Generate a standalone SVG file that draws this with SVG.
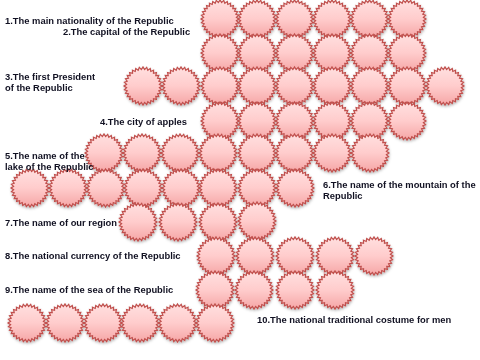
<svg xmlns="http://www.w3.org/2000/svg" xmlns:xlink="http://www.w3.org/1999/xlink" width="480" height="360" viewBox="0 0 480 360">
<style>
.lbl{font-family:"Liberation Sans",Arial,sans-serif;font-weight:bold;font-size:9.4px;fill:#111122}
.cell{fill:url(#g);stroke:#c0504d;stroke-width:1.2;stroke-linejoin:miter}
</style>
<defs>
<linearGradient id="g" x1="0" y1="0" x2="0" y2="1">
<stop offset="0" stop-color="#ffe0e0"/>
<stop offset="0.5" stop-color="#ffcccc"/>
<stop offset="1" stop-color="#f5a6a6"/>
</linearGradient>
<filter id="sh" x="-10%" y="-10%" width="120%" height="130%">
<feDropShadow dx="0.5" dy="1.5" stdDeviation="0.8" flood-color="#000" flood-opacity="0.3"/>
</filter>
<polygon id="s" class="cell" points="19,0 16.42,1.62 18.63,3.71 15.79,4.79 17.55,7.27 14.55,7.78 15.8,10.56 12.75,10.47 13.44,13.44 10.47,12.75 10.56,15.8 7.78,14.55 7.27,17.55 4.79,15.79 3.71,18.63 1.62,16.42 0,19 -1.62,16.42 -3.71,18.63 -4.79,15.79 -7.27,17.55 -7.78,14.55 -10.56,15.8 -10.47,12.75 -13.44,13.44 -12.75,10.47 -15.8,10.56 -14.55,7.78 -17.55,7.27 -15.79,4.79 -18.63,3.71 -16.42,1.62 -19,0 -16.42,-1.62 -18.63,-3.71 -15.79,-4.79 -17.55,-7.27 -14.55,-7.78 -15.8,-10.56 -12.75,-10.47 -13.44,-13.44 -10.47,-12.75 -10.56,-15.8 -7.78,-14.55 -7.27,-17.55 -4.79,-15.79 -3.71,-18.63 -1.62,-16.42 0,-19 1.62,-16.42 3.71,-18.63 4.79,-15.79 7.27,-17.55 7.78,-14.55 10.56,-15.8 10.47,-12.75 13.44,-13.44 12.75,-10.47 15.8,-10.56 14.55,-7.78 17.55,-7.27 15.79,-4.79 18.63,-3.71 16.42,-1.62"/>
</defs>
<g id="cells" filter="url(#sh)">
<g id="row1">
<use href="#s" x="220" y="19"/><use href="#s" x="257" y="19"/><use href="#s" x="294.5" y="19"/><use href="#s" x="332" y="19"/><use href="#s" x="369.5" y="19"/><use href="#s" x="407" y="19"/>
</g>
<g id="row2">
<use href="#s" x="220" y="53"/><use href="#s" x="257" y="53"/><use href="#s" x="294.5" y="53"/><use href="#s" x="332" y="53"/><use href="#s" x="369.5" y="53"/><use href="#s" x="407" y="53"/>
</g>
<g id="row3">
<use href="#s" x="143" y="86"/><use href="#s" x="181" y="86"/><use href="#s" x="220" y="86"/><use href="#s" x="257" y="86"/><use href="#s" x="294.5" y="86"/><use href="#s" x="332" y="86"/><use href="#s" x="369.5" y="86"/><use href="#s" x="407" y="86"/><use href="#s" x="445" y="86"/>
</g>
<g id="row4">
<use href="#s" x="220" y="121"/><use href="#s" x="257" y="121"/><use href="#s" x="294.5" y="121"/><use href="#s" x="332" y="121"/><use href="#s" x="369.5" y="121"/><use href="#s" x="407" y="121"/>
</g>
<g id="row5">
<use href="#s" x="104" y="153"/><use href="#s" x="142" y="153"/><use href="#s" x="180" y="153"/><use href="#s" x="218" y="153"/><use href="#s" x="257" y="153"/><use href="#s" x="294.5" y="153"/><use href="#s" x="332" y="153"/><use href="#s" x="370" y="153"/>
</g>
<g id="row6">
<use href="#s" x="30" y="188"/><use href="#s" x="68" y="188"/><use href="#s" x="105.5" y="188"/><use href="#s" x="143" y="188"/><use href="#s" x="181" y="188"/><use href="#s" x="218" y="188"/><use href="#s" x="257" y="188"/><use href="#s" x="295" y="188"/>
</g>
<g id="row7">
<use href="#s" x="138" y="222"/><use href="#s" x="178" y="222"/><use href="#s" x="218" y="222"/><use href="#s" x="257" y="221"/>
</g>
<g id="row8">
<use href="#s" x="216" y="256"/><use href="#s" x="255" y="256"/><use href="#s" x="295" y="256"/><use href="#s" x="335" y="256"/><use href="#s" x="374" y="256"/>
</g>
<g id="row9">
<use href="#s" x="215" y="290"/><use href="#s" x="254" y="290"/><use href="#s" x="295" y="290"/><use href="#s" x="335" y="290"/>
</g>
<g id="row10">
<use href="#s" x="27" y="323"/><use href="#s" x="65" y="323"/><use href="#s" x="103" y="323"/><use href="#s" x="140" y="323"/><use href="#s" x="177.5" y="323"/><use href="#s" x="215" y="323"/>
</g>
</g>
<g id="labels">
<text class="lbl" x="5" y="24">1.The main nationality of the Republic</text>
<text class="lbl" x="63" y="35">2.The capital of the Republic</text>
<text class="lbl" x="5" y="80">3.The first President</text>
<text class="lbl" x="5" y="91">of the Republic</text>
<text class="lbl" x="100" y="125">4.The city of apples</text>
<text class="lbl" x="5" y="159">5.The name of the</text>
<text class="lbl" x="5" y="170">lake of the Republic</text>
<text class="lbl" x="323" y="188">6.The name of the mountain of the</text>
<text class="lbl" x="323" y="199">Republic</text>
<text class="lbl" x="5" y="226">7.The name of our region</text>
<text class="lbl" x="5" y="259">8.The national currency of the Republic</text>
<text class="lbl" x="5" y="293">9.The name of the sea of the Republic</text>
<text class="lbl" x="257" y="323">10.The national traditional costume for men</text>
</g>
</svg>
